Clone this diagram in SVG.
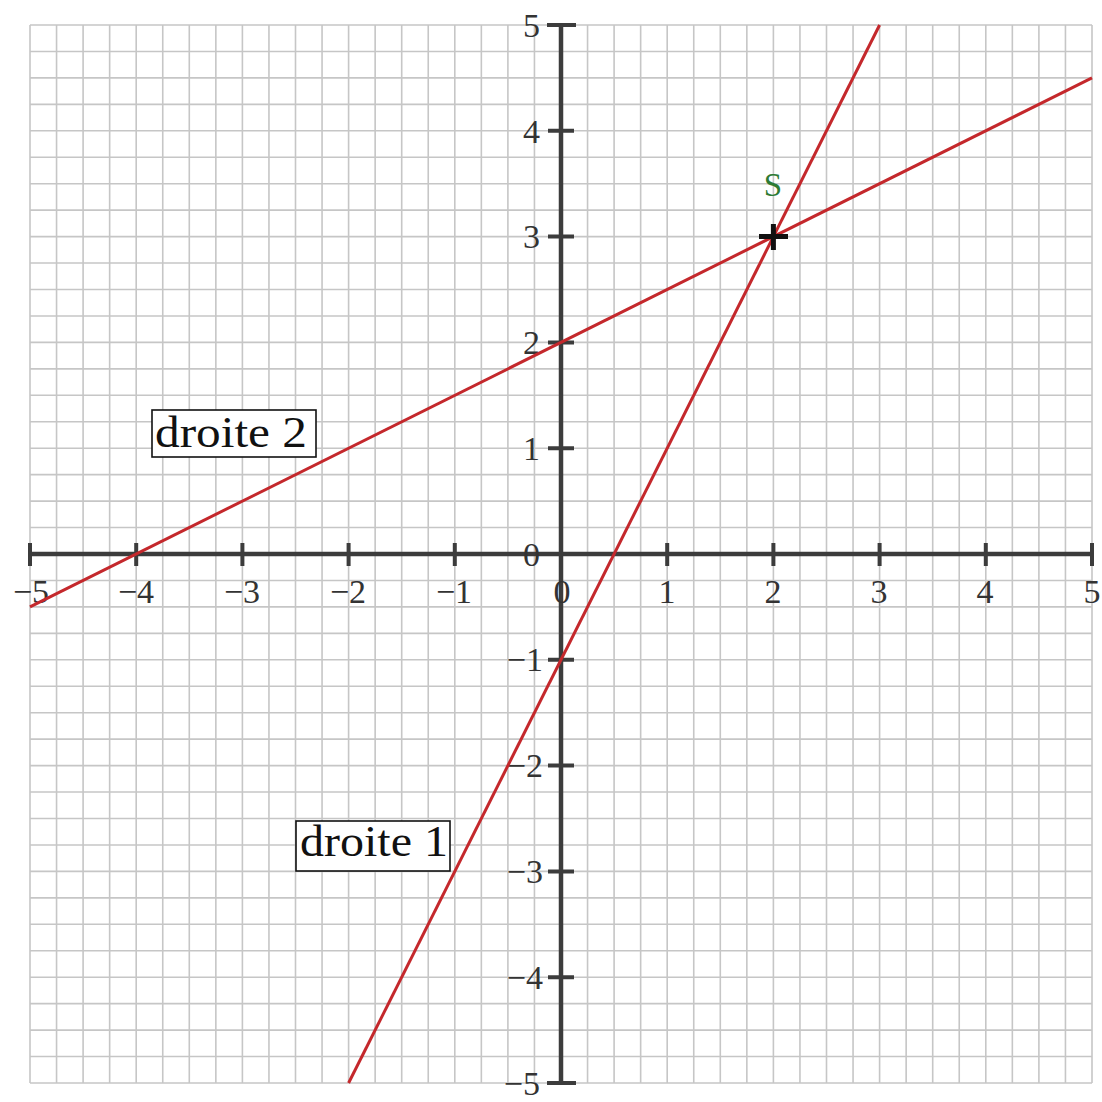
<svg xmlns="http://www.w3.org/2000/svg" width="1102" height="1102" viewBox="0 0 1102 1102">
<style>
.grid{stroke:#c6c6c6;stroke-width:1.6;fill:none}
.axis{stroke:#3c3c3c;stroke-width:4.5;fill:none}
.tick{stroke:#3c3c3c;stroke-width:4;fill:none}
.lab{font-family:"Liberation Serif","DejaVu Serif",serif;font-size:34px;fill:#333}
.xl{text-anchor:middle}
.yl{text-anchor:end}
.line{stroke:#c4282c;stroke-width:3;fill:none}
.box{fill:#fff;stroke:#111;stroke-width:1.6}
.name{font-family:"Liberation Serif","DejaVu Serif",serif;font-size:44px;fill:#111}
</style>
<rect width="1102" height="1102" fill="#fff"/>
<g id="grid">
<path class="grid" d="M30 25V1083M56.55 25V1083M83.1 25V1083M109.65 25V1083M136.2 25V1083M162.75 25V1083M189.3 25V1083M215.85 25V1083M242.4 25V1083M268.95 25V1083M295.5 25V1083M322.05 25V1083M348.6 25V1083M375.15 25V1083M401.7 25V1083M428.25 25V1083M454.8 25V1083M481.35 25V1083M507.9 25V1083M534.45 25V1083M561 25V1083M587.55 25V1083M614.1 25V1083M640.65 25V1083M667.2 25V1083M693.75 25V1083M720.3 25V1083M746.85 25V1083M773.4 25V1083M799.95 25V1083M826.5 25V1083M853.05 25V1083M879.6 25V1083M906.15 25V1083M932.7 25V1083M959.25 25V1083M985.8 25V1083M1012.35 25V1083M1038.9 25V1083M1065.45 25V1083M1092 25V1083"/>
<path class="grid" d="M30 25H1092M30 51.45H1092M30 77.9H1092M30 104.35H1092M30 130.8H1092M30 157.25H1092M30 183.7H1092M30 210.15H1092M30 236.6H1092M30 263.05H1092M30 289.5H1092M30 315.95H1092M30 342.4H1092M30 368.85H1092M30 395.3H1092M30 421.75H1092M30 448.2H1092M30 474.65H1092M30 501.1H1092M30 527.55H1092M30 554H1092M30 580.45H1092M30 606.9H1092M30 633.35H1092M30 659.8H1092M30 686.25H1092M30 712.7H1092M30 739.15H1092M30 765.6H1092M30 792.05H1092M30 818.5H1092M30 844.95H1092M30 871.4H1092M30 897.85H1092M30 924.3H1092M30 950.75H1092M30 977.2H1092M30 1003.65H1092M30 1030.1H1092M30 1056.55H1092M30 1083H1092"/>
</g>
<g id="axes">
<path class="axis" d="M30 554H1092M561 25V1083"/>
<path class="tick" d="M30 543V566M136.2 543V566M242.4 543V566M348.6 543V566M454.8 543V566M667.2 543V566M773.4 543V566M879.6 543V566M985.8 543V566M1092 543V566"/>
<path class="tick" d="M547 25H576M548 130.8H574M548 236.6H574M548 342.4H574M548 448.2H574M548 659.8H574M548 765.6H574M548 871.4H574M548 977.2H574M547 1083H576"/>
</g>
<g id="xlabels" class="lab xl">
<text x="31" y="603">−5</text>
<text x="136" y="603">−4</text>
<text x="242" y="603">−3</text>
<text x="348" y="603">−2</text>
<text x="454" y="603">−1</text>
<text x="562" y="603">0</text>
<text x="667" y="603">1</text>
<text x="773" y="603">2</text>
<text x="879" y="603">3</text>
<text x="985" y="603">4</text>
<text x="1092" y="603">5</text>
</g>
<g id="ylabels" class="lab yl">
<text x="540" y="37">5</text>
<text x="540" y="143">4</text>
<text x="540" y="248">3</text>
<text x="540" y="354">2</text>
<text x="540" y="460">1</text>
<text x="540" y="566">0</text>
<text x="543" y="671">−1</text>
<text x="543" y="777">−2</text>
<text x="543" y="883">−3</text>
<text x="543" y="989">−4</text>
<text x="540" y="1095">−5</text>
</g>
<g id="connectors">
<path id="droite1" class="line" d="M348.6 1083L879.6 25"/>
<path id="droite2" class="line" d="M30 606.9L1092 77.9"/>
</g>
<g id="point-S">
<path d="M759 236.6H788M773.4 224V250" stroke="#111" stroke-width="5" fill="none"/>
<text x="773" y="196" text-anchor="middle" style="font-family:'Liberation Serif','DejaVu Serif',serif;font-size:33px;fill:#2e7a34">S</text>
</g>
<g id="label-droite2">
<rect class="box" x="152" y="410" width="164" height="47"/>
<text class="name" x="155" y="447" textLength="152" lengthAdjust="spacingAndGlyphs">droite 2</text>
</g>
<g id="label-droite1">
<rect class="box" x="296" y="821" width="154" height="50"/>
<text class="name" x="300" y="856" textLength="148" lengthAdjust="spacingAndGlyphs">droite 1</text>
</g>
</svg>
